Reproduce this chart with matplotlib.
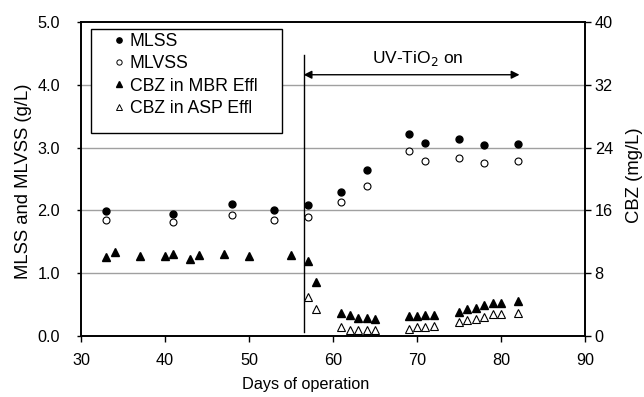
import matplotlib
matplotlib.use("Agg")
import matplotlib.pyplot as plt
from matplotlib.lines import Line2D
from matplotlib.patches import Rectangle

plt.rcParams['font.family'] = ['Liberation Sans', 'DejaVu Sans']

# solids (g/L)
ss_days = [33, 41, 48, 53, 57, 61, 64, 69, 71, 75, 78, 82]
mlss = [1.99, 1.94, 2.10, 2.01, 2.09, 2.30, 2.64, 3.21, 3.08, 3.13, 3.04, 3.06]
mlvss = [1.85, 1.81, 1.93, 1.85, 1.90, 2.13, 2.39, 2.94, 2.78, 2.84, 2.75, 2.79]

# CBZ (mg/L)
mbr_days = [33, 34, 37, 40, 41, 43, 44, 47, 50, 55, 57, 58, 61, 62, 63, 64, 65,
            69, 70, 71, 72, 75, 76, 77, 78, 79, 80, 82]
cbz_mbr = [10.0, 10.7, 10.15, 10.2, 10.4, 9.8, 10.3, 10.45, 10.2, 10.3, 9.6, 6.85,
           2.9, 2.7, 2.35, 2.35, 2.2, 2.5, 2.6, 2.7, 2.7, 3.1, 3.5, 3.6, 4.0,
           4.15, 4.15, 4.4]
asp_days = [57, 58, 61, 62, 63, 64, 65, 69, 70, 71, 72, 75, 76, 77, 78, 79, 80, 82]
cbz_asp = [5.0, 3.4, 1.1, 0.7, 0.7, 0.7, 0.7, 0.85, 1.15, 1.15, 1.25, 1.75,
           2.05, 2.15, 2.4, 2.75, 2.75, 2.9]

uv_start, uv_end = 56.5, 82.2

fig = plt.figure(figsize=(6.44, 3.97), dpi=100)
ax = fig.add_axes([0.1258, 0.1537, 0.7826, 0.7909])
ax2 = ax.twinx()

ms = 5
ax.plot(ss_days, mlss, 'o', color='black', ms=ms, zorder=3)
ax.plot(ss_days, mlvss, 'o', mfc='white', mec='black', mew=0.8, ms=ms, zorder=3)
ax2.plot(mbr_days, cbz_mbr, '^', color='black', ms=ms + 0.5, zorder=3)
ax2.plot(asp_days, cbz_asp, '^', mfc='white', mec='black', mew=0.8, ms=ms + 0.5, zorder=3)

ax.set_xlim(30, 90)
ax.set_ylim(0, 5)
ax2.set_ylim(0, 40)
ax.set_xticks(range(30, 91, 10))
ax.set_yticks([0, 1, 2, 3, 4, 5])
ax.set_yticklabels([f"{v:.1f}" for v in [0, 1, 2, 3, 4, 5]])
ax2.set_yticks(range(0, 41, 8))

for y in [1, 2, 3, 4]:
    ax.axhline(y, color='#a0a0a0', lw=1.0, zorder=1)

for a in (ax, ax2):
    for s in a.spines.values():
        s.set_linewidth(1.2)
ax.tick_params(axis='x', direction='out', length=4, width=1, labelsize=11.7, pad=8)
ax.tick_params(axis='y', direction='out', length=3, width=1, labelsize=11.7, pad=12)
ax2.tick_params(axis='y', direction='out', length=4, width=1, labelsize=11.7, pad=3)

ax.set_xlabel("Days of operation", fontsize=11.7)
ax.set_ylabel("MLSS and MLVSS (g/L)", fontsize=13.3)
ax2.set_ylabel("CBZ (mg/L)", fontsize=13.3)
ax.xaxis.set_label_coords(0.446, -0.131)
ax.yaxis.set_label_coords(-0.097, 0.494)
ax2.yaxis.set_label_coords(1.081, 0.513)

# UV-TiO2 period marker
ax.plot([uv_start, uv_start], [0.07, 4.47], color='black', lw=1.0, zorder=2)
ax.annotate('', xy=(uv_end, 4.16), xytext=(uv_start, 4.16),
            arrowprops=dict(arrowstyle='<|-|>', color='black', lw=1.0,
                            mutation_scale=12, shrinkA=0, shrinkB=0))
ax.text(70.1, 4.42, "UV-TiO$_2$ on", ha='center', va='center', fontsize=12.5)

handles = [
    Line2D([], [], marker='o', ls='', color='black', ms=3.8),
    Line2D([], [], marker='o', ls='', mfc='white', mec='black', mew=0.7, ms=3.8),
    Line2D([], [], marker='^', ls='', color='black', ms=4),
    Line2D([], [], marker='^', ls='', mfc='white', mec='black', mew=0.7, ms=4),
]
labels = ["MLSS", "MLVSS", "CBZ in MBR Effl", "CBZ in ASP Effl"]
ax2.add_patch(Rectangle((0.019, 0.645), 0.379, 0.334, transform=ax2.transAxes,
                        fill=True, fc='white', ec='black', lw=1.0, zorder=4))
leg = ax2.legend(handles, labels, loc='upper left', bbox_to_anchor=(0.065, 0.965),
                 frameon=False, fontsize=12.7, borderpad=0, borderaxespad=0,
                 handlelength=0.6, handletextpad=0.3, labelspacing=0.3)
leg.set_zorder(5)

fig.savefig("out.png", dpi=100)
